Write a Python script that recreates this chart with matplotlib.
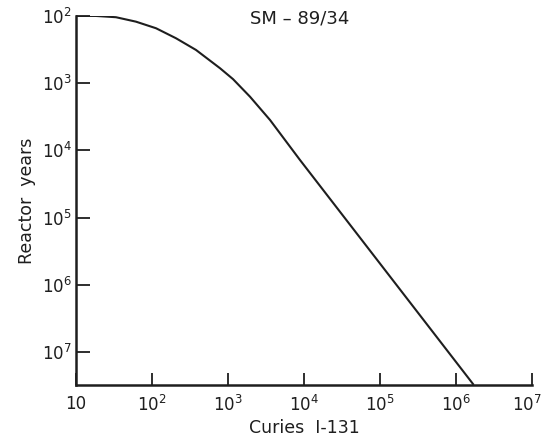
import numpy as np
import matplotlib.pyplot as plt

# curve (log10 values)
log_curies = [1.0, 1.263, 1.526, 1.789, 2.053, 2.316, 2.579, 2.895, 3.066, 3.289,
              3.553, 3.947, 6.224]
log_years = [2.0, 2.0, 2.019, 2.085, 2.183, 2.332, 2.506, 2.778, 2.94, 3.201,
             3.548, 4.143, 7.476]

x_ticks = [1e1, 1e2, 1e3, 1e4, 1e5, 1e6, 1e7]
x_labels = ["10", "$10^{2}$", "$10^{3}$", "$10^{4}$", "$10^{5}$", "$10^{6}$", "$10^{7}$"]
y_ticks = [1e2, 1e3, 1e4, 1e5, 1e6, 1e7]
y_labels = ["$10^{2}$", "$10^{3}$", "$10^{4}$", "$10^{5}$", "$10^{6}$", "$10^{7}$"]

plt.rcParams['mathtext.default'] = 'regular'
ink = '#1e1e1e'

fig = plt.figure(figsize=(5.44, 4.43), dpi=100)
ax = fig.add_axes([0.1397, 0.131, 0.8383, 0.833])

ax.plot(10 ** np.array(log_curies), 10 ** np.array(log_years), color=ink, lw=1.5,
        solid_joinstyle='round')

ax.set_xscale('log')
ax.set_yscale('log')
ax.set_xlim(1e1, 1e7)
ax.set_ylim(10 ** 7.49, 1e2)

# last x label sits right at the figure edge in the original, place it by hand
ax.set_xticks(x_ticks)
ax.set_xticklabels(x_labels[:-1] + [""], fontsize=12)
ax.annotate(x_labels[-1], xy=(x_ticks[-1], 0), xycoords=('data', 'axes fraction'),
            xytext=(-4, -7), textcoords='offset points', ha='center', va='top',
            fontsize=12, color=ink, annotation_clip=False)
ax.set_yticks(y_ticks)
ax.set_yticklabels(y_labels, fontsize=12)
ax.minorticks_off()

ax.spines['top'].set_visible(False)
ax.spines['right'].set_visible(False)
for s in ['left', 'bottom']:
    ax.spines[s].set_linewidth(1.8)
    ax.spines[s].set_color(ink)
ax.tick_params(axis='x', direction='in', length=9, width=1.3, pad=7, colors=ink)
ax.tick_params(axis='y', direction='in', length=10, width=1.3, pad=3, colors=ink)

ax.set_xlabel("Curies  I-131", fontsize=12.5, color=ink, labelpad=3)
ax.set_ylabel("Reactor  years", fontsize=12.5, color=ink, labelpad=4)
fig.text(0.55, 0.958, "SM \u2013 89/34", fontsize=13, color=ink, ha='center', va='center')

fig.savefig("out.png", dpi=100)
